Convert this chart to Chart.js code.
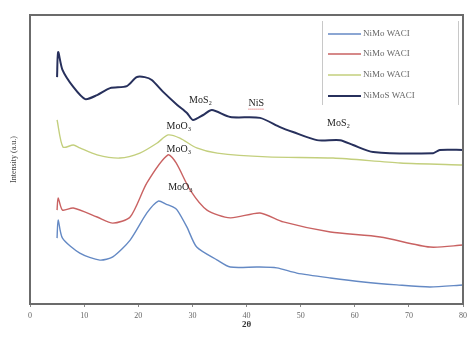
<!DOCTYPE html>
<html><head><meta charset="utf-8">
<script src="https://cdn.jsdelivr.net/npm/chart.js@4/dist/chart.umd.min.js"></script>
<style>html,body{margin:0;padding:0;background:#fff}#wrap{width:468px;height:338px}</style>
</head><body><div id="wrap"><canvas id="c"></canvas></div>
<script>
const seriesNames = ["NiMo WACI", "NiMo WACI", "NiMo WACI", "NiMoS WACI"];
const xTicks = [0, 10, 20, 30, 40, 50, 60, 70, 80];
const blueX = [5, 5.2, 6, 9.2, 12.9, 15.3, 18.5, 21.6, 23.7, 25.2, 26.4, 27.2, 29, 30.8, 34.6, 37, 42, 45.6, 49.3, 55.5, 61.6, 67.8, 73.9, 80];
const blueY = [22.8, 29.1, 22.8, 17.6, 15.2, 16.3, 22.1, 31.5, 35.6, 34.5, 33.6, 32.5, 26.6, 19.7, 15.2, 12.8, 12.8, 12.5, 10.7, 9, 7.6, 6.6, 5.9, 6.6];
const redX = [5, 5.2, 6, 8, 12.4, 15.3, 18.5, 21.6, 25.5, 27, 29.6, 32.7, 37, 42.5, 46.8, 55.5, 64.7, 73.9, 80];
const redY = [32.5, 36.7, 32.5, 33.2, 30.1, 28, 30.1, 41.9, 51.6, 48.8, 39.4, 32.5, 29.8, 31.5, 28.4, 24.9, 23.2, 19.7, 20.4];
const greenX = [5, 6.1, 8, 9.2, 12.4, 16.6, 20.3, 23.5, 25.5, 27.7, 30.8, 34.6, 43.8, 56, 68.4, 80];
const greenY = [63.7, 54.3, 55, 54, 51.6, 50.5, 52.2, 55.7, 58.5, 57.4, 54, 52.2, 50.9, 50.5, 48.8, 48.1];
const navyX = [5, 5.2, 6, 8, 10.2, 12.4, 14.8, 17.9, 19.7, 21.2, 22.5, 24.6, 27.2, 29, 30.1, 32, 33.6, 37, 42.5, 46.2, 48.6, 53, 57.3, 59.7, 63.4, 74.5, 75.7, 80];
const navyY = [78.5, 87.2, 81, 75.1, 70.9, 72.3, 74.7, 75.4, 78.5, 78.5, 77.5, 73.4, 68.9, 66.1, 63.7, 65.4, 67.1, 64.7, 64.4, 61.2, 59.5, 56.7, 56.7, 55, 52.6, 52.2, 53.3, 53.3];
const labelTexts = ["MoS₂", "NiS", "MoS₂", "MoO₃", "MoO₃", "MoO₃"];
const labelX = [31.5, 41.8, 57, 27.5, 27.5, 27.8];
const labelY = [70.5, 69.5, 62.5, 61.5, 53.5, 40.5];

const pts = (xs, ys) => xs.map((x, i) => ({x, y: ys[i]}));
const colors = ["#6489c4", "#c96262", "#c3cf7d", "#27305c"];
const widths = [1.4, 1.4, 1.4, 2];
const seriesData = [pts(blueX, blueY), pts(redX, redY), pts(greenX, greenY), pts(navyX, navyY)];

const serif = "'Liberation Serif', 'DejaVu Serif', serif";

const framePlugin = {
  id: 'frame',
  afterDatasetsDraw(chart) {
    const {ctx, chartArea: a, scales} = chart;
    ctx.save();
    ctx.fillStyle = '#222';
    ctx.font = '10px ' + serif;
    ctx.textAlign = 'center';
    ctx.textBaseline = 'middle';
    labelTexts.forEach((t, i) => {
      const px = scales.x.getPixelForValue(labelX[i]);
      const py = scales.y.getPixelForValue(labelY[i]);
      ctx.fillText(t, px, py);
      if (t === 'NiS') {
        const w = ctx.measureText(t).width;
        ctx.strokeStyle = '#e05050';
        ctx.lineWidth = 1;
        ctx.setLineDash([1, 1]);
        ctx.beginPath();
        ctx.moveTo(px - w / 2, py + 6);
        ctx.lineTo(px + w / 2, py + 6);
        ctx.stroke();
        ctx.setLineDash([]);
      }
    });
    const lx0 = 322, lx1 = 458, ly0 = a.top + 6, ly1 = 105;
    ctx.fillStyle = '#fff';
    ctx.fillRect(lx0, ly0, lx1 - lx0, ly1 - ly0);
    ctx.strokeStyle = '#c8c8c8';
    ctx.lineWidth = 1;
    ctx.beginPath();
    ctx.moveTo(lx0 + 0.5, ly0); ctx.lineTo(lx0 + 0.5, ly1);
    ctx.moveTo(lx1 + 0.5, ly0); ctx.lineTo(lx1 + 0.5, ly1);
    ctx.stroke();
    const rows = [34, 54, 75, 96];
    ctx.font = '9px ' + serif;
    ctx.textAlign = 'left';
    chart.data.datasets.forEach((ds, i) => {
      ctx.strokeStyle = ds.borderColor;
      ctx.lineWidth = ds.borderWidth;
      ctx.beginPath();
      ctx.moveTo(328, rows[i]); ctx.lineTo(361, rows[i]);
      ctx.stroke();
      ctx.fillStyle = '#666';
      ctx.fillText(ds.label, 363, rows[i]);
    });
    ctx.strokeStyle = '#6b6b6b';
    ctx.lineWidth = 2;
    ctx.strokeRect(a.left, a.top, a.right - a.left, a.bottom - a.top);
    ctx.restore();
  }
};

new Chart(document.getElementById('c'), {
  type: 'line',
  data: {
    datasets: seriesData.map((d, i) => ({
      label: seriesNames[i],
      data: d,
      borderColor: colors[i],
      borderWidth: widths[i],
      pointRadius: 0,
      tension: 0.25,
      fill: false
    }))
  },
  options: {
    responsive: true,
    maintainAspectRatio: false,
    animation: false,
    layout: {padding: {left: 9, top: 15, right: 5, bottom: 0}},
    plugins: {legend: {display: false}, tooltip: {enabled: false}},
    scales: {
      x: {
        type: 'linear', min: 0, max: 80,
        afterBuildTicks: s => { s.ticks = xTicks.map(v => ({value: v})); },
        afterFit: s => { s.height = 34; s.paddingRight = 0; s.paddingLeft = 0; },
        grid: {display: true, drawOnChartArea: false, tickLength: 3, color: '#888'},
        border: {display: false},
        ticks: {font: {family: serif, size: 8}, color: '#666', padding: 4, maxRotation: 0},
        title: {display: true, text: '2θ', font: {family: serif, size: 9, weight: 'bold'}, color: '#333', padding: {top: 0, bottom: 8}}
      },
      y: {
        min: 0, max: 100,
        afterFit: s => { s.width = 21; },
        grid: {display: false},
        border: {display: false},
        ticks: {display: false},
        title: {display: true, text: 'Intensity (a.u.)', font: {family: serif, size: 8}, color: '#444', padding: {top: 0, bottom: 0}}
      }
    }
  },
  plugins: [framePlugin]
});
</script></body></html>
